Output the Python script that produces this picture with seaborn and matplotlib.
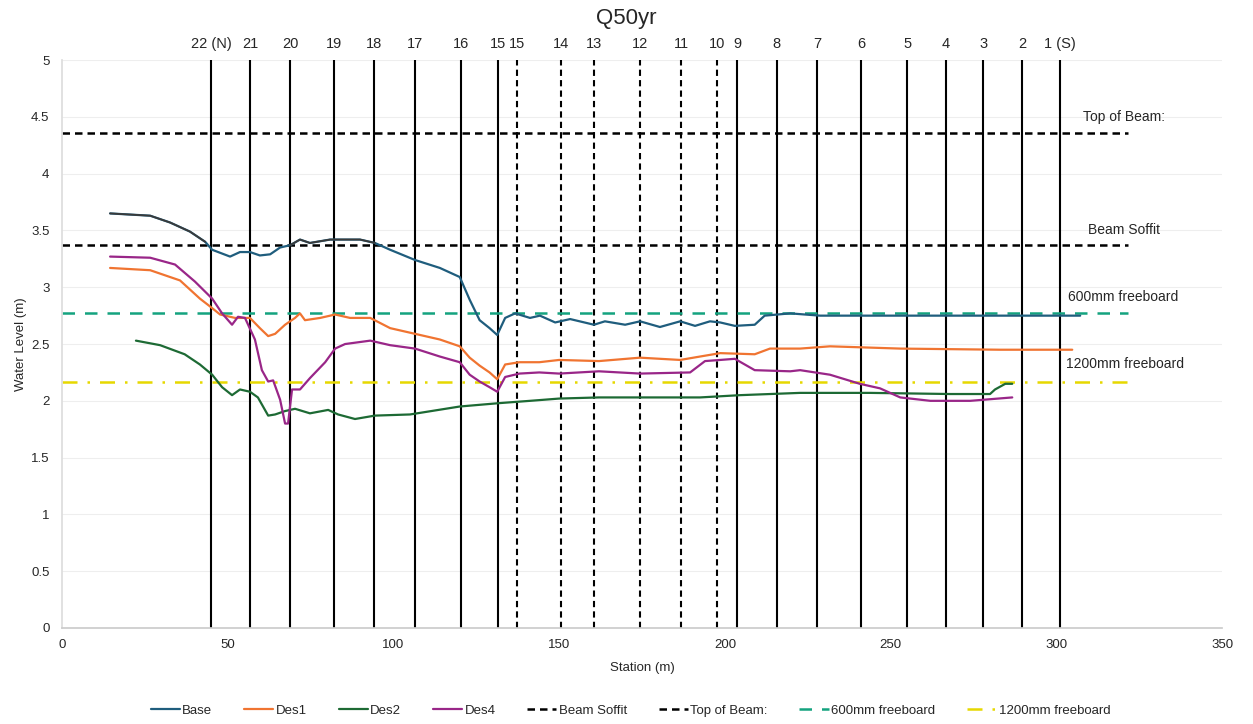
import numpy as np
import pandas as pd
import matplotlib
matplotlib.use("Agg")
import matplotlib.pyplot as plt
import seaborn as sns

# ------------------------------
# Data
# ------------------------------
base_x = [14.5, 26.6, 32.6, 38.6, 43.2, 45.3, 50.7, 53.7, 56.7, 59.7, 62.8, 65.8, 68.8, 71.8,
          74.8, 80.9, 85.4, 89.9, 94.4, 99.0, 106.5, 114.0, 120.0, 123.0, 126.0, 129.0, 131.3,
          133.7, 136.7, 141.2, 144.2, 148.8, 153.3, 160.5, 163.8, 169.9, 174.4, 180.4, 186.5,
          191.0, 195.5, 198.6, 203.0, 209.0, 212.0, 219.7, 228.7, 252.9, 283.0, 307.2]
base_y = [3.65, 3.63, 3.57, 3.49, 3.40, 3.33, 3.27, 3.31, 3.31, 3.28, 3.29, 3.35, 3.37, 3.42,
          3.39, 3.42, 3.42, 3.42, 3.39, 3.33, 3.24, 3.17, 3.09, 2.89, 2.71, 2.64, 2.58,
          2.73, 2.77, 2.73, 2.75, 2.69, 2.72, 2.67, 2.70, 2.67, 2.70, 2.65, 2.70,
          2.66, 2.70, 2.69, 2.66, 2.67, 2.75, 2.77, 2.75, 2.75, 2.75, 2.75]

des1_x = [14.5, 26.6, 35.6, 41.6, 44.7, 47.7, 52.2, 56.7, 59.7, 62.2, 64.3, 67.3, 70.3, 71.8,
          73.3, 77.9, 82.4, 86.9, 93.0, 99.0, 106.5, 114.0, 120.0, 123.0, 126.0, 129.0, 131.3,
          133.7, 138.0, 144.0, 150.0, 162.0, 174.4, 186.5, 192.5, 198.6, 209.0, 213.6, 222.7,
          231.7, 252.9, 283.0, 296.6, 304.8]
des1_y = [3.17, 3.15, 3.06, 2.90, 2.83, 2.76, 2.73, 2.73, 2.64, 2.57, 2.59, 2.67, 2.73, 2.77,
          2.71, 2.73, 2.76, 2.73, 2.73, 2.64, 2.59, 2.54, 2.48, 2.38, 2.31, 2.25, 2.19,
          2.32, 2.34, 2.34, 2.36, 2.35, 2.38, 2.36, 2.39, 2.42, 2.41, 2.46, 2.46,
          2.48, 2.46, 2.45, 2.45, 2.45]

des2_x = [22.3, 29.6, 37.0, 41.6, 45.3, 48.3, 51.3, 53.7, 56.7, 59.1, 62.2, 64.3, 67.3, 70.3,
          74.8, 80.3, 83.3, 88.4, 94.4, 105.0, 120.0, 132.0, 141.2, 150.0, 162.0, 180.4, 192.5,
          204.6, 222.7, 243.8, 268.0, 280.0, 281.5, 284.6, 286.7]
des2_y = [2.53, 2.49, 2.41, 2.32, 2.23, 2.12, 2.05, 2.10, 2.08, 2.03, 1.87, 1.88, 1.91, 1.93,
          1.89, 1.92, 1.88, 1.84, 1.87, 1.88, 1.95, 1.98, 2.00, 2.02, 2.03, 2.03, 2.03,
          2.05, 2.07, 2.07, 2.06, 2.06, 2.10, 2.15, 2.15]

des4_x = [14.5, 26.6, 34.1, 40.1, 45.3, 48.3, 51.3, 53.1, 55.2, 58.2, 60.3, 62.2, 63.7, 65.8,
          67.3, 68.2, 69.4, 71.8, 74.8, 79.4, 82.4, 85.4, 93.0, 99.0, 106.5, 114.0, 120.0,
          123.0, 126.0, 129.0, 131.3, 133.7, 138.0, 144.0, 150.0, 162.0, 174.4, 189.5, 194.0,
          198.6, 203.0, 209.0, 219.7, 222.7, 231.7, 240.7, 246.8, 252.9, 262.0, 274.0, 286.7]
des4_y = [3.27, 3.26, 3.20, 3.05, 2.90, 2.77, 2.67, 2.74, 2.73, 2.54, 2.27, 2.17, 2.18, 2.01,
          1.80, 1.80, 2.10, 2.10, 2.20, 2.34, 2.46, 2.50, 2.53, 2.49, 2.46, 2.39, 2.34,
          2.23, 2.17, 2.12, 2.08, 2.21, 2.24, 2.25, 2.24, 2.26, 2.24, 2.25, 2.35,
          2.36, 2.37, 2.27, 2.26, 2.27, 2.23, 2.15, 2.11, 2.03, 2.00, 2.00, 2.03]

beam_soffit = 3.37
top_of_beam = 4.36
freeboard_600 = 2.77
freeboard_1200 = 2.17
level_x = [0, 321.6]

pier_labels = ["22 (N)", "21", "20", "19", "18", "17", "16", "15", "15", "14", "13", "12",
               "11", "10", "9", "8", "7", "6", "5", "4", "3", "2", "1 (S)"]
pier_x = [45.0, 56.7, 68.8, 82.1, 94.1, 106.5, 120.4, 131.6, 137.3, 150.6, 160.5, 174.4,
          186.8, 197.6, 203.7, 215.7, 227.8, 241.1, 255.0, 266.7, 277.9, 289.7, 301.1]
pier_dashed = [False] * 8 + [True] * 6 + [False] * 9

# ------------------------------
# Figure
# ------------------------------
sns.set_theme(style="white")
plt.rcParams["font.family"] = ["Liberation Sans", "DejaVu Sans"]

fig = plt.figure(figsize=(12.53, 7.24), dpi=100)
ax = fig.add_axes([0.0495, 0.1326, 0.9258, 0.7844])

# faint horizontal grid
for yv in np.arange(0.5, 5.01, 0.5):
    ax.axhline(yv, color="#eeeeee", lw=0.8, zorder=0)

# piers
for px, dashed in zip(pier_x, pier_dashed):
    ax.axvline(px, color="black", lw=1.5, ls=(0, (3, 2)) if dashed else "-", zorder=1)

# level lines
sns.lineplot(x=level_x, y=[beam_soffit] * 2, ax=ax, color="black", lw=1.8,
             ls=(0, (3, 2)), label="Beam Soffit", zorder=2)
sns.lineplot(x=level_x, y=[top_of_beam] * 2, ax=ax, color="black", lw=1.8,
             ls=(0, (3, 2)), label="Top of Beam:", zorder=2)
sns.lineplot(x=level_x, y=[freeboard_600] * 2, ax=ax, color="#14a37f", lw=1.8,
             ls=(0, (5, 4)), label="600mm freeboard", zorder=2)
sns.lineplot(x=level_x, y=[freeboard_1200] * 2, ax=ax, color="#e6d800", lw=1.8,
             ls=(0, (6, 4, 1, 4)), label="1200mm freeboard", zorder=2)

# series
sns.lineplot(x=base_x, y=base_y, ax=ax, color="#1f5d7d", lw=1.6, label="Base", zorder=4,
             sort=False)
base_hi = np.where(np.array(base_y) >= beam_soffit, base_y, np.nan)
ax.plot(base_x, base_hi, color="#3a3a3a", lw=1.3, zorder=4)
sns.lineplot(x=des1_x, y=des1_y, ax=ax, color="#f07431", lw=1.6, label="Des1", zorder=4,
             sort=False)
sns.lineplot(x=des2_x, y=des2_y, ax=ax, color="#1d6a34", lw=1.6, label="Des2", zorder=4,
             sort=False)
sns.lineplot(x=des4_x, y=des4_y, ax=ax, color="#992688", lw=1.6, label="Des4", zorder=4,
             sort=False)

# level labels
ax.text(308, 4.5, "Top of Beam:", fontsize=10, ha="left", va="center")
ax.text(309.5, 3.5, "Beam Soffit", fontsize=10, ha="left", va="center")
ax.text(303.5, 2.91, "600mm freeboard", fontsize=10, ha="left", va="center")
ax.text(302.8, 2.32, "1200mm freeboard", fontsize=10, ha="left", va="center")

# pier labels on top
for lbl, px in zip(pier_labels, pier_x):
    ax.text(px, 5.14, lbl, fontsize=10.5, ha="center", va="center")

fig.text(0.5, 0.975, "Q50yr", fontsize=16, ha="center", va="center")
ax.set_xlim(0, 350)
ax.set_ylim(0, 5)
ax.set_xticks(np.arange(0, 351, 50))
ax.set_yticks(np.arange(0, 5.01, 0.5))
ax.set_yticklabels([f"{v:g}" for v in np.arange(0, 5.01, 0.5)])
ax.tick_params(axis="x", labelsize=9.5, length=0, pad=8)
ax.tick_params(axis="y", labelsize=9.5, length=0, pad=9)
ax.set_xlabel("Station (m)", fontsize=9.5, labelpad=8)
ax.set_ylabel("Water Level (m)", fontsize=9.5, labelpad=3)
for side in ["top", "right"]:
    ax.spines[side].set_visible(False)
ax.spines["bottom"].set_color("#cccccc")
ax.spines["left"].set_color("#dddddd")

handles, labels = ax.get_legend_handles_labels()
order = ["Base", "Des1", "Des2", "Des4", "Beam Soffit", "Top of Beam:", "600mm freeboard",
         "1200mm freeboard"]
hmap = dict(zip(labels, handles))
ax.legend([hmap[k] for k in order], order, loc="center", bbox_to_anchor=(0.49, -0.146),
          ncol=8, frameon=False, fontsize=9.5, handlelength=2.2, columnspacing=2.4,
          handletextpad=0.2)

fig.savefig("out.png", dpi=100)
